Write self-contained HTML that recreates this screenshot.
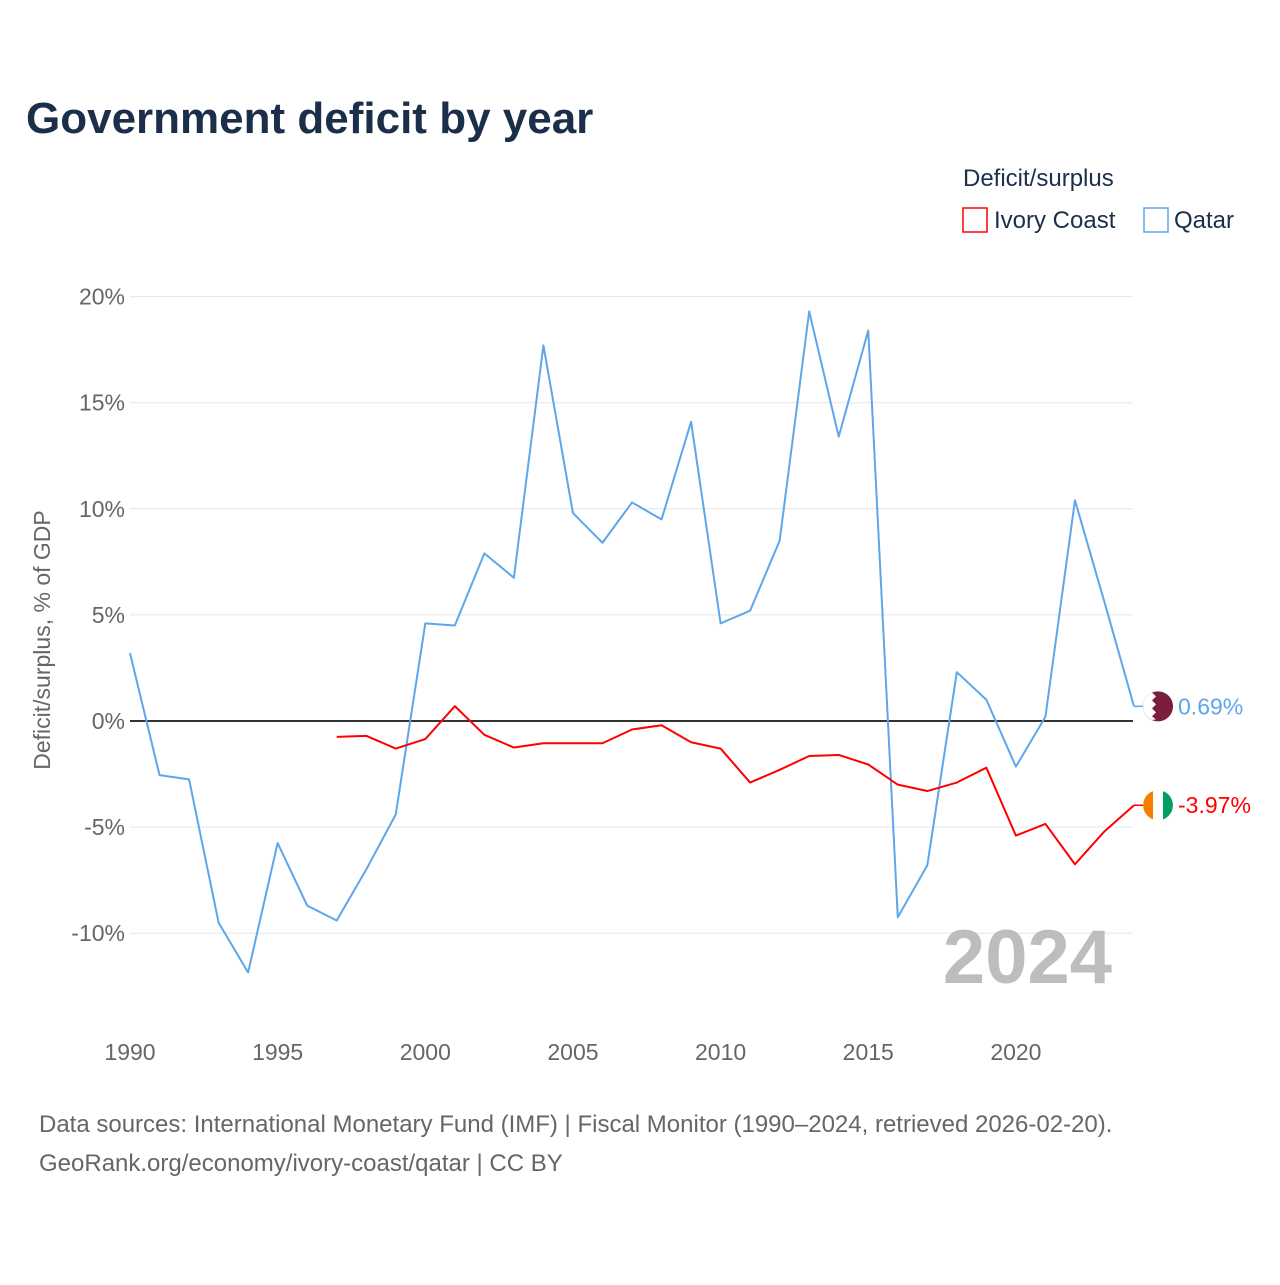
<!DOCTYPE html>
<html><head><meta charset="utf-8">
<style>
body{margin:0;background:#fff;font-family:"Liberation Sans",sans-serif;}
svg text{font-family:"Liberation Sans",sans-serif;}
</style></head>
<body>
<svg id="chart" width="1280" height="1280" viewBox="0 0 1280 1280">
<text x="26" y="133" font-size="44" font-weight="bold" fill="#1b2f4b">Government deficit by year</text>
<text x="963" y="186" font-size="24" fill="#1b2f4b">Deficit/surplus</text>
<g><rect x="963" y="208" width="24" height="24" fill="none" stroke="#ff0000" stroke-width="1.5"/><text x="994" y="228" font-size="24" fill="#1b2f4b">Ivory Coast</text></g>
<g><rect x="1144" y="208" width="24" height="24" fill="none" stroke="#5ea6ea" stroke-width="1.5"/><text x="1174" y="228" font-size="24" fill="#1b2f4b">Qatar</text></g>
<g id="grid"></g>
<g id="xticks"></g>
<text transform="translate(50,640) rotate(-90)" text-anchor="middle" font-size="23" fill="#666">Deficit/surplus, % of GDP</text>
<text x="1112" y="983" text-anchor="end" font-size="76" font-weight="bold" fill="#bdbdbd">2024</text>
<g id="series"></g>
<text x="39" y="1132" font-size="24" fill="#666">Data sources: International Monetary Fund (IMF) | Fiscal Monitor (1990–2024, retrieved 2026-02-20).</text>
<text x="39" y="1171" font-size="24" fill="#666">GeoRank.org/economy/ivory-coast/qatar | CC BY</text>
</svg>
<script>
const yTicks=[20,15,10,5,0,-5,-10];
const xTicks=[1990,1995,2000,2005,2010,2015,2020];
const qatarYears=[1990,1991,1992,1993,1994,1995,1996,1997,1998,1999,2000,2001,2002,2003,2004,2005,2006,2007,2008,2009,2010,2011,2012,2013,2014,2015,2016,2017,2018,2019,2020,2021,2022,2023,2024];
const qatarValues=[3.2,-2.55,-2.75,-9.5,-11.85,-5.75,-8.7,-9.4,-7.0,-4.4,4.6,4.5,7.9,6.75,17.7,9.8,8.4,10.3,9.5,14.1,4.6,5.2,8.5,19.3,13.4,18.4,-9.25,-6.8,2.3,1.0,-2.15,0.2,10.4,5.6,0.69];
const ivoryYears=[1997,1998,1999,2000,2001,2002,2003,2004,2005,2006,2007,2008,2009,2010,2011,2012,2013,2014,2015,2016,2017,2018,2019,2020,2021,2022,2023,2024];
const ivoryValues=[-0.75,-0.7,-1.3,-0.85,0.7,-0.65,-1.25,-1.05,-1.05,-1.05,-0.4,-0.2,-1.0,-1.3,-2.9,-2.3,-1.65,-1.6,-2.05,-3.0,-3.3,-2.9,-2.2,-5.4,-4.85,-6.75,-5.2,-3.97];
const NS="http://www.w3.org/2000/svg";
const x=yr=>130+(yr-1990)*29.53;
const y=v=>721-v*21.22;
function mk(tag,attrs,parent){const e=document.createElementNS(NS,tag);for(const k in attrs)e.setAttribute(k,attrs[k]);parent.appendChild(e);return e;}
const grid=document.getElementById('grid');
yTicks.forEach(t=>{
  const l=mk('line',{x1:130,x2:1133,y1:y(t),y2:y(t),stroke:t===0?'#333':'#e6e6e6','stroke-width':t===0?2:1},grid);
  
  
  const tx=mk('text',{x:125,y:y(t)+8,'text-anchor':'end','font-size':23,fill:'#666'},grid);
  tx.textContent=t+'%';
  
  
});
const xt=document.getElementById('xticks');
xTicks.forEach(t=>{
  const tx=mk('text',{x:x(t),y:1060,'text-anchor':'middle','font-size':23,fill:'#666'},xt);
  tx.textContent=t;
  
  
});
const sg=document.getElementById('series');
function line(years,vals,color,name){
  const p=mk('polyline',{points:years.map((yr,i)=>x(yr)+','+y(vals[i])).join(' '),fill:'none',stroke:color,'stroke-width':2,'stroke-linejoin':'round'},sg);
  
  
}
line(qatarYears,qatarValues,'#5ea6ea','qatar-line');
line(ivoryYears,ivoryValues,'#ff0000','ivory-coast-line');
function endLabel(years,vals,color,name,flag){
  const v=vals[vals.length-1],yy=y(v),xx=x(years[years.length-1]);
  const g=mk('g',{},sg);
  
  
  mk('line',{x1:xx,x2:xx+12,y1:yy,y2:yy,stroke:color,'stroke-width':1.5},g);
  const cx=xx+24;
  if(flag==='qatar'){
    mk('circle',{cx:cx,cy:yy,r:15,fill:'#7a1d3f'},g);
    mk('path',{d:`M${cx-15},${yy} A15,15 0 0 1 ${cx-6},${yy-13.7} L${cx-2},${yy-10} L${cx-6},${yy-6} L${cx-2},${yy-2} L${cx-6},${yy+2} L${cx-2},${yy+6} L${cx-6},${yy+10} L${cx-2},${yy+13} L${cx-6},${yy+13.7} A15,15 0 0 1 ${cx-15},${yy}Z`,fill:'#fff'},g);
  }else{
    mk('circle',{cx:cx,cy:yy,r:15,fill:'#fff'},g);
    mk('path',{d:`M${cx-5},${yy-14.1} A15,15 0 0 0 ${cx-5},${yy+14.1}Z`,fill:'#f77f00'},g);
    mk('path',{d:`M${cx+5},${yy-14.1} A15,15 0 0 1 ${cx+5},${yy+14.1}Z`,fill:'#009e60'},g);
  }
  const t=mk('text',{x:cx+20,y:yy+8,'font-size':23,fill:color},g);
  t.textContent=v.toFixed(2)+'%';
}
endLabel(qatarYears,qatarValues,'#5ea6ea','qatar','qatar');
endLabel(ivoryYears,ivoryValues,'#ff0000','ivory-coast','ivory');
</script>
</body></html>
